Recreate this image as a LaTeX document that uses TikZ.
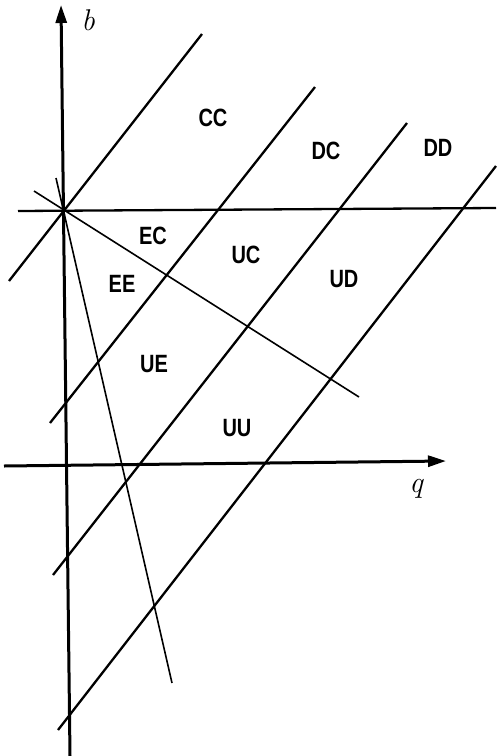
\documentclass[tikz,border=0pt]{standalone}
\usepackage{fontspec}
\setsansfont[FakeStretch=0.8]{Liberation Sans}
\usetikzlibrary{arrows.meta}
\begin{document}
\begin{tikzpicture}[x=1pt,y=-1pt,
  axis/.style={line width=3pt,-{Triangle[length=18pt,width=11pt]}},
  plain/.style={line width=2.3pt},
  thinl/.style={line width=1.6pt},
  region/.style={font=\sffamily\bfseries\fontsize{25}{25}\selectfont},
  axlab/.style={font=\itshape\fontsize{30}{30}\selectfont}]
\useasboundingbox (0,0) rectangle (496,756);
% axes
\coordinate (vb) at (70,756);
\coordinate (vt) at (61,5);
\coordinate (hl) at (4,466);
\coordinate (hr) at (446,461);
\draw[axis] (vb) -- (vt);
\draw[axis] (hl) -- (hr);
% upper horizontal line
\coordinate (ul) at (18,211);
\coordinate (ur) at (496,208);
\draw[plain] (ul) -- (ur);
% diagonal parallels
\coordinate (a1) at (202,34);  \coordinate (b1) at (9,281);
\coordinate (a2) at (315,87);  \coordinate (b2) at (50,423);
\coordinate (a3) at (407,123); \coordinate (b3) at (53,575);
\coordinate (a4) at (496,166); \coordinate (b4) at (58,730);
\draw[plain] (a1) -- (b1);
\draw[plain] (a2) -- (b2);
\draw[plain] (a3) -- (b3);
\draw[plain] (a4) -- (b4);
% thin lines through the common point
\coordinate (c1) at (34,191);  \coordinate (d1) at (359,397);
\coordinate (c2) at (56,178);  \coordinate (d2) at (172,683);
\draw[thinl] (c1) -- (d1);
\draw[thinl] (c2) -- (d2);
% labels
\node[axlab] (lb) at (88,20) {b};
\node[axlab] (lq) at (416,489) {q};
\node[region] (CC) at (213,118) {CC};
\node[region] (DC) at (326,151) {DC};
\node[region] (DD) at (438,148) {DD};
\node[region] (EC) at (153,236) {EC};
\node[region] (UC) at (246,255) {UC};
\node[region] (UD) at (344,279) {UD};
\node[region] (EE) at (122,284) {EE};
\node[region] (UE) at (154,364) {UE};
\node[region] (UU) at (237,428) {UU};
\end{tikzpicture}
\end{document}
